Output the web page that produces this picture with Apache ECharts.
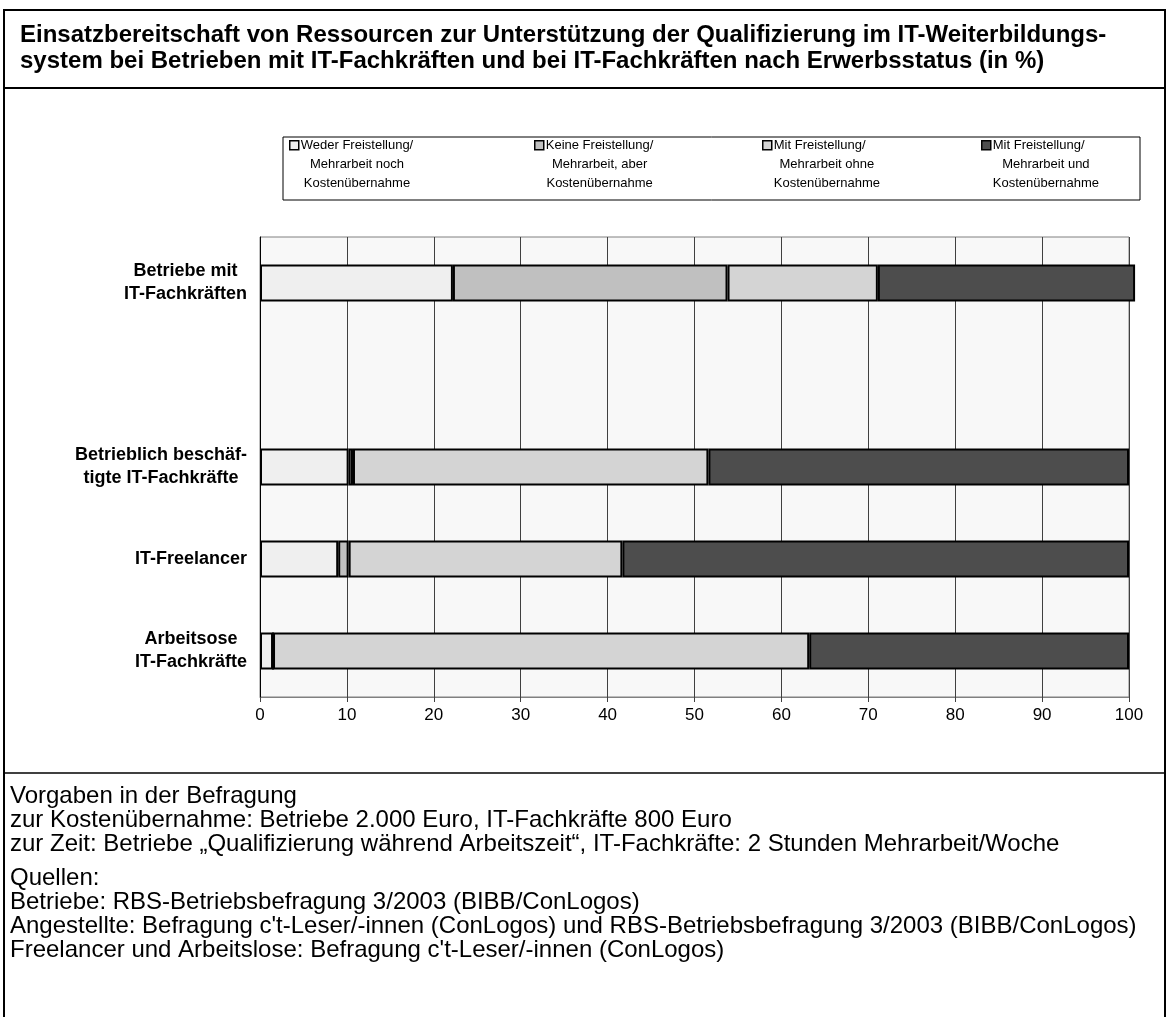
<!DOCTYPE html>
<html><head><meta charset="utf-8">
<script src="https://cdn.jsdelivr.net/npm/echarts@6/dist/echarts.min.js"></script>
<style>html,body{margin:0;padding:0;background:#fff}#c{width:1166px;height:1017px}</style>
</head><body><div id="c"></div>
<script>
const categories = ['Betriebe mit\nIT-Fachkräften', '', 'Betrieblich beschäf-\ntigte IT-Fachkräfte', 'IT-Freelancer', 'Arbeitsose\nIT-Fachkräfte'];
const seriesNames = [
  'Weder Freistellung/\nMehrarbeit noch\nKostenübernahme',
  'Keine Freistellung/\nMehrarbeit, aber\nKostenübernahme',
  'Mit Freistellung/\nMehrarbeit ohne\nKostenübernahme',
  'Mit Freistellung/\nMehrarbeit und\nKostenübernahme'
];
const wederValues   = [22.2, null, 10.2, 9.0, 1.5];
const keineValues   = [31.6, null, 0.5, 1.2, 0];
const mitOhneValues = [17.3, null, 40.9, 31.5, 61.7];
const mitUndValues  = [29.6, null, 48.4, 58.3, 36.8];
const titleText = 'Einsatzbereitschaft von Ressourcen zur Unterstützung der Qualifizierung im IT-Weiterbildungs-\nsystem bei Betrieben mit IT-Fachkräften und bei IT-Fachkräften nach Erwerbsstatus (in %)';
const noteText1 = 'Vorgaben in der Befragung\nzur Kostenübernahme: Betriebe 2.000 Euro, IT-Fachkräfte 800 Euro\nzur Zeit: Betriebe „Qualifizierung während Arbeitszeit“, IT-Fachkräfte: 2 Stunden Mehrarbeit/Woche';
const noteText2 = 'Quellen:\nBetriebe: RBS-Betriebsbefragung 3/2003 (BIBB/ConLogos)\nAngestellte: Befragung c\'t-Leser/-innen (ConLogos) und RBS-Betriebsbefragung 3/2003 (BIBB/ConLogos)\nFreelancer und Arbeitslose: Befragung c\'t-Leser/-innen (ConLogos)';

const allValues = [wederValues, keineValues, mitOhneValues, mitUndValues];
const colors = ['#efefef', '#c0c0c0', '#d4d4d4', '#4d4d4d'];
const legendLefts = [289, 534, 762, 981];
const FONT = 'Liberation Sans, Arial, sans-serif';

const chart = echarts.init(document.getElementById('c'), null, {renderer: 'canvas'});

const legendRich = {
  f: {align: 'left', fontFamily: FONT, fontSize: 13, lineHeight: 19, color: '#000'},
  c: {align: 'center', fontFamily: FONT, fontSize: 13, lineHeight: 19, color: '#000'}
};

const legends = seriesNames.map((n, i) => ({
  data: [n],
  left: legendLefts[i],
  top: 135,
  padding: 0,
  orient: 'horizontal',
  selectedMode: false,
  itemWidth: 9,
  itemHeight: 57,
  itemGap: 0,
  icon: 'path://M0,0M0,5H9V14H0ZM0,57',
  itemStyle: {borderColor: '#000', borderWidth: 1.5},
  formatter: name => name.split('\n').map((s, k) => (k === 0 ? '{f|' : '{c|') + s + '}').join('\n'),
  textStyle: {
    fontFamily: FONT, fontSize: 13, color: '#000', padding: [0, 0, 0, -3],
    rich: legendRich
  }
}));

chart.setOption({
  backgroundColor: '#fff',
  animation: false,
  title: [
    {text: titleText, left: 20, top: 22, padding: 0,
     textStyle: {fontFamily: FONT, fontSize: 24, fontWeight: 'bold', color: '#000', lineHeight: 26}},
    {text: noteText1, left: 10, top: 784, padding: 0,
     textStyle: {fontFamily: FONT, fontSize: 24, fontWeight: 'normal', color: '#000', lineHeight: 24}},
    {text: noteText2, left: 10, top: 866, padding: 0,
     textStyle: {fontFamily: FONT, fontSize: 24, fontWeight: 'normal', color: '#000', lineHeight: 24}}
  ],
  legend: legends,
  grid: {left: 260, right: 37, top: 237, bottom: 320, show: true,
         backgroundColor: '#f8f8f8', borderColor: '#808080', borderWidth: 1, containLabel: false},
  xAxis: {
    type: 'value', min: 0, max: 100, interval: 10,
    axisLine: {show: true, lineStyle: {color: '#808080', width: 1}},
    axisTick: {show: true, length: 5, lineStyle: {color: '#404040'}},
    splitLine: {show: true, lineStyle: {color: '#404040', width: 1}},
    axisLabel: {fontFamily: FONT, fontSize: 17, color: '#000', margin: 10}
  },
  yAxis: {
    type: 'category', data: categories, inverse: true,
    axisLine: {show: true, lineStyle: {color: '#000', width: 1}},
    axisTick: {show: false},
    splitLine: {show: false},
    axisLabel: {
      margin: 13, align: 'right',
      formatter: v => v ? v.split('\n').map(s => '{c|' + s + '}').join('\n') : '',
      rich: {c: {align: 'center', fontFamily: FONT, fontSize: 18, fontWeight: 'bold', lineHeight: 23, color: '#000'}}
    }
  },
  series: allValues.map((vals, i) => ({
    name: seriesNames[i],
    type: 'bar',
    stack: 'total',
    data: vals,
    barWidth: '40%',
    clip: false,
    itemStyle: {color: colors[i], borderColor: '#000', borderWidth: 2},
    emphasis: {disabled: true}
  })),
  graphic: [
    {type: 'rect', shape: {x: 4, y: 10, width: 1161, height: 1030}, style: {fill: null, stroke: '#000', lineWidth: 2}, silent: true},
    {type: 'line', shape: {x1: 4, y1: 88, x2: 1166, y2: 88}, style: {stroke: '#000', lineWidth: 2}, silent: true},
    {type: 'line', shape: {x1: 4, y1: 773, x2: 1166, y2: 773}, style: {stroke: '#000', lineWidth: 1.5}, silent: true},
    {type: 'rect', shape: {x: 283, y: 137, width: 857, height: 63}, style: {fill: null, stroke: '#000', lineWidth: 1}, silent: true, z: -1}
  ]
});
</script></body></html>
